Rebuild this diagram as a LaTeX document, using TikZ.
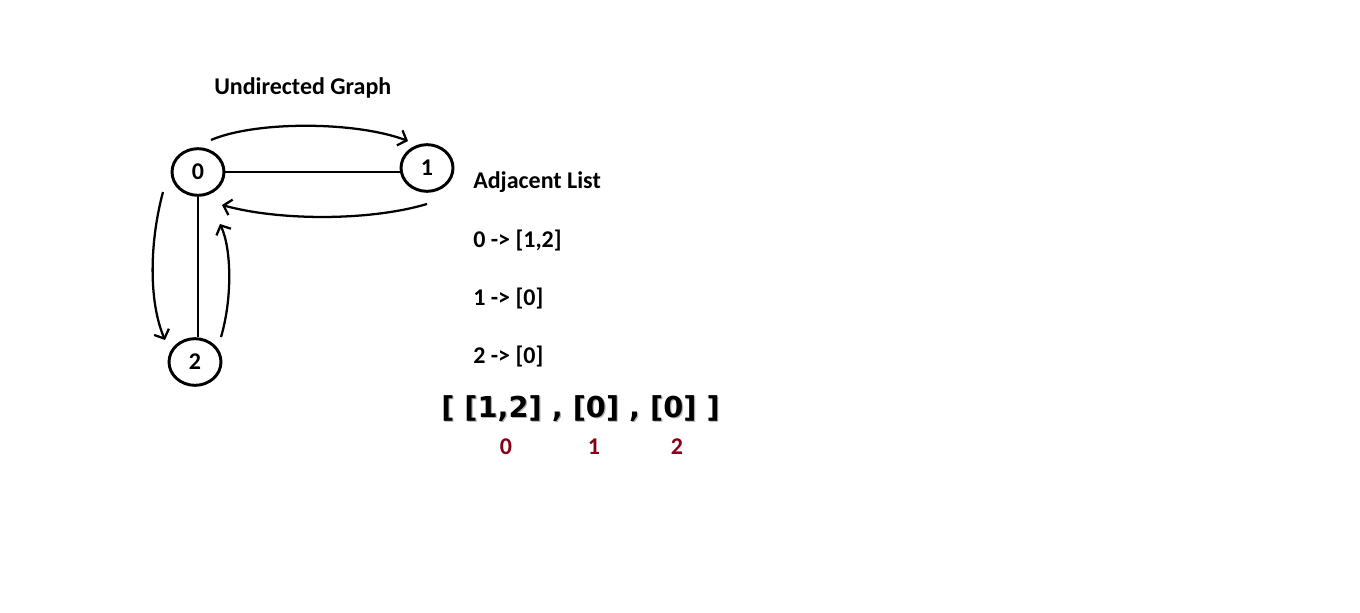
\documentclass[tikz,border=0pt]{standalone}
\usepackage{fontspec}
\setmainfont{Carlito}
\newfontfamily\bigfont{DejaVu Sans}
\usetikzlibrary{shapes.geometric,arrows.meta}
\definecolor{darkred}{RGB}{136,0,21}
\begin{document}
\begin{tikzpicture}[x=0.75pt,y=-0.75pt,
  vert/.style={ellipse,draw,line width=2.2pt,minimum width=39pt,minimum height=35pt,inner sep=0pt,font=\fontsize{18pt}{20pt}\selectfont\bfseries},
  edge/.style={line width=2.2pt},
  arr/.style={line width=1.7pt,-{Straight Barb[length=5.5pt,width=12pt,line width=1.7pt]}},
  lbl/.style={inner sep=0pt,anchor=west,font=\fontsize{18pt}{21pt}\selectfont\bfseries},
  idx/.style={inner sep=0pt,text=darkred,font=\fontsize{18pt}{21pt}\selectfont\bfseries}]
\useasboundingbox[fill=white] (0,0) rectangle (1360,613);
\node[vert] (n0) at (198,172) {0};
\node[vert] (n1) at (427,168) {1};
\node[vert] (n2) at (195,362) {2};
\draw[edge] (n0.east) -- (n1.west |- n0.east);
\draw[edge] (n0.south) -- (n2.north -| n0.south);
\coordinate (a1) at (211,140); \coordinate (b1) at (408,141);
\coordinate (a2) at (427,204); \coordinate (b2) at (222,205);
\coordinate (a3) at (163,192); \coordinate (b3) at (165,340);
\coordinate (a4) at (221,337); \coordinate (b4) at (220,224);
\draw[arr] (a1) .. controls (255,121) and (355,121) .. (b1);
\draw[arr] (a2) .. controls (370,221) and (280,221) .. (b2);
\draw[arr] (a3) .. controls (150,240) and (148,300) .. (b3);
\draw[arr] (a4) .. controls (232,300) and (232,250) .. (b4);
\node[lbl] (title) at (214,88) {Undirected Graph};
\node[lbl] (adj) at (473,182) {Adjacent List};
\node[lbl] (l0) at (473,241) {0 -> [1,2]};
\node[lbl] (l1) at (473,299) {1 -> [0]};
\node[lbl] (l2) at (473,357) {2 -> [0]};
\node[inner sep=0pt,anchor=west,text=black!30,font=\bigfont\fontsize{21.6pt}{25pt}\selectfont\bfseries] (shadow) at (442.2,409.2) {[ [1,2] , [0] , [0] ]};
\node[inner sep=0pt,anchor=west,font=\bigfont\fontsize{21.6pt}{25pt}\selectfont\bfseries] (arr) at (441,408.5) {[ [1,2] , [0] , [0] ]};
\node[idx] (i0) at (506,447) {0};
\node[idx] (i1) at (594,447) {1};
\node[idx] (i2) at (677,447) {2};
\end{tikzpicture}
\end{document}
